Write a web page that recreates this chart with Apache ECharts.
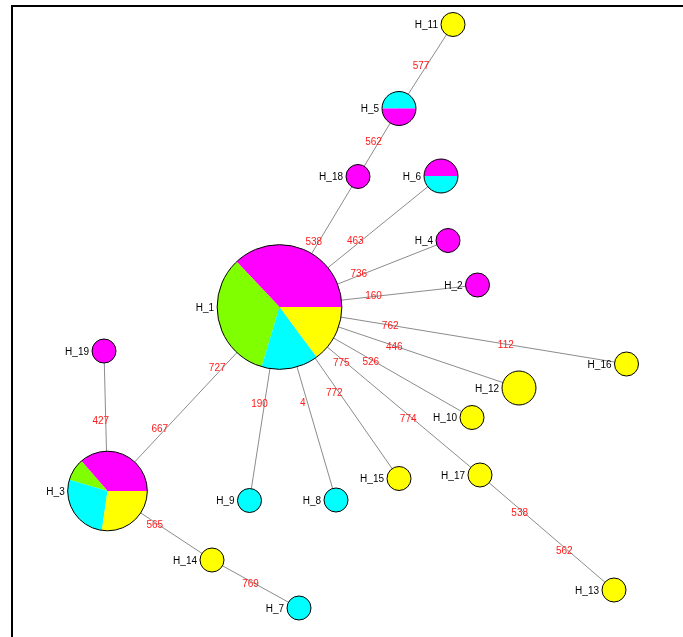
<!DOCTYPE html>
<html>
<head>
<meta charset="utf-8">
<script src="https://cdn.jsdelivr.net/npm/echarts@6/dist/echarts.min.js"></script>
<style>
  html, body { margin: 0; padding: 0; background: #fff; }
  #chart { width: 683px; height: 637px; }
</style>
</head>
<body>
<div id="chart"></div>
<script>
// Haplotype network: nodes, layout positions and population counts
const haplotypes = ['H_1','H_2','H_3','H_4','H_5','H_6','H_7','H_8','H_9','H_10',
                    'H_11','H_12','H_13','H_14','H_15','H_16','H_17','H_18','H_19'];
const layoutX = [279.5, 477.5, 107.5, 448, 399, 441, 299, 336, 249.5, 472,
                 453, 519, 614, 212, 399, 626.5, 480, 358, 104];
const layoutY = [307, 285, 491, 240.5, 108.5, 176, 608, 500, 500.5, 417.5,
                 24.5, 388, 590, 560, 478.5, 364, 475, 176.5, 351];

// counts per population
const popMagenta = [10, 1, 4, 1, 1, 1, 0, 0, 0, 0, 0, 0, 0, 0, 0, 0, 0, 1, 1];
const popGreen   = [ 9, 0, 1, 0, 0, 0, 0, 0, 0, 0, 0, 0, 0, 0, 0, 0, 0, 0, 0];
const popCyan    = [ 4, 0, 3, 0, 1, 1, 1, 1, 1, 0, 0, 0, 0, 0, 0, 0, 0, 0, 0];
const popYellow  = [ 4, 0, 3, 0, 0, 0, 0, 0, 0, 1, 1, 2, 1, 1, 1, 1, 1, 0, 0];

// links and the mutation sites written along each link
const edgeFrom = ['H_1','H_18','H_5','H_1','H_1','H_1','H_1','H_1','H_1','H_1',
                  'H_17','H_1','H_1','H_1','H_1','H_3','H_3','H_14'];
const edgeTo   = ['H_18','H_5','H_11','H_6','H_4','H_2','H_16','H_12','H_10','H_17',
                  'H_13','H_15','H_8','H_9','H_3','H_19','H_14','H_7'];
const edgeMutations = [['538'],['562'],['577'],['463'],['736'],['160'],['762','112'],['446'],['526'],['775','774'],
                       ['538','562'],['772'],['4'],['190'],['727','667'],['427'],['565'],['769']];

const popColors = { magenta: '#ff00ff', green: '#7fff00', cyan: '#00ffff', yellow: '#ffff00' };
const defaultOrder = ['magenta', 'green', 'cyan', 'yellow'];
const orderOverride = { 'H_5': ['cyan', 'magenta', 'green', 'yellow'] };

const idx = name => haplotypes.indexOf(name);

const nodeRows = haplotypes.map((h, i) =>
  [layoutX[i], layoutY[i], popMagenta[i], popGreen[i], popCyan[i], popYellow[i], i]);

const edgeRows = edgeFrom.map((f, k) => {
  const a = idx(f), b = idx(edgeTo[k]);
  return [layoutX[a], layoutY[a], layoutX[b], layoutY[b]];
});

// mutation labels spaced evenly along each link
const mutRows = [];
const mutText = [];
edgeFrom.forEach((f, k) => {
  const a = idx(f), b = idx(edgeTo[k]);
  const m = edgeMutations[k];
  m.forEach((txt, j) => {
    const t = (j + 1) / (m.length + 1);
    mutRows.push([layoutX[a] + (layoutX[b] - layoutX[a]) * t,
                  layoutY[a] + (layoutY[b] - layoutY[a]) * t]);
    mutText.push(txt);
  });
});

const FONT = '"Liberation Sans", Arial, sans-serif';
const UNIT_R = 12;

const chart = echarts.init(document.getElementById('chart'), null, { renderer: 'canvas' });

chart.setOption({
  animation: false,
  backgroundColor: '#ffffff',
  grid: { left: 0, right: 0, top: 0, bottom: 0 },
  xAxis: { type: 'value', min: 0, max: 683, show: false },
  yAxis: { type: 'value', min: 0, max: 637, inverse: true, show: false },
  graphic: [{
    type: 'rect',
    shape: { x: 12, y: 6, width: 800, height: 800 },
    style: { fill: 'none', stroke: '#000', lineWidth: 2 },
    silent: true,
    z: 0
  }],
  series: [
    {
      type: 'custom',
      coordinateSystem: 'cartesian2d',
      data: edgeRows,
      z: 1,
      renderItem: (params, api) => {
        const p1 = api.coord([api.value(0), api.value(1)]);
        const p2 = api.coord([api.value(2), api.value(3)]);
        return {
          type: 'line',
          shape: { x1: p1[0], y1: p1[1], x2: p2[0], y2: p2[1] },
          style: { stroke: '#8c8c8c', lineWidth: 1 }
        };
      }
    },
    {
      type: 'custom',
      coordinateSystem: 'cartesian2d',
      data: mutRows,
      z: 2,
      renderItem: (params, api) => {
        const p = api.coord([api.value(0), api.value(1)]);
        return {
          type: 'text',
          x: p[0] - 5,
          y: p[1],
          style: {
            text: mutText[params.dataIndex],
            fill: '#ff1a1a',
            font: '10px ' + FONT,
            align: 'center',
            verticalAlign: 'middle'
          }
        };
      }
    },
    {
      type: 'custom',
      coordinateSystem: 'cartesian2d',
      data: nodeRows,
      z: 3,
      renderItem: (params, api) => {
        const i = api.value(6);
        const c = api.coord([api.value(0), api.value(1)]);
        const counts = { magenta: api.value(2), green: api.value(3), cyan: api.value(4), yellow: api.value(5) };
        const total = counts.magenta + counts.green + counts.cyan + counts.yellow;
        const r = api.size([UNIT_R, 0])[0] * Math.sqrt(total);
        const order = orderOverride[haplotypes[i]] || defaultOrder;
        const children = [];
        let a0 = 0;
        order.forEach(key => {
          const n = counts[key];
          if (!n) return;
          const a1 = a0 + (n / total) * Math.PI * 2;
          children.push({
            type: 'sector',
            shape: { cx: c[0], cy: c[1], r: r, r0: 0, startAngle: -a1, endAngle: -a0, clockwise: true },
            style: { fill: popColors[key], stroke: null }
          });
          a0 = a1;
        });
        children.push({
          type: 'circle',
          shape: { cx: c[0], cy: c[1], r: r },
          style: { fill: 'none', stroke: '#000', lineWidth: 1 }
        });
        children.push({
          type: 'text',
          x: c[0] - r - 3,
          y: c[1] + 1,
          style: {
            text: haplotypes[i],
            fill: '#000',
            font: '10px ' + FONT,
            align: 'right',
            verticalAlign: 'middle'
          }
        });
        return { type: 'group', children: children };
      }
    }
  ]
});
</script>
</body>
</html>
